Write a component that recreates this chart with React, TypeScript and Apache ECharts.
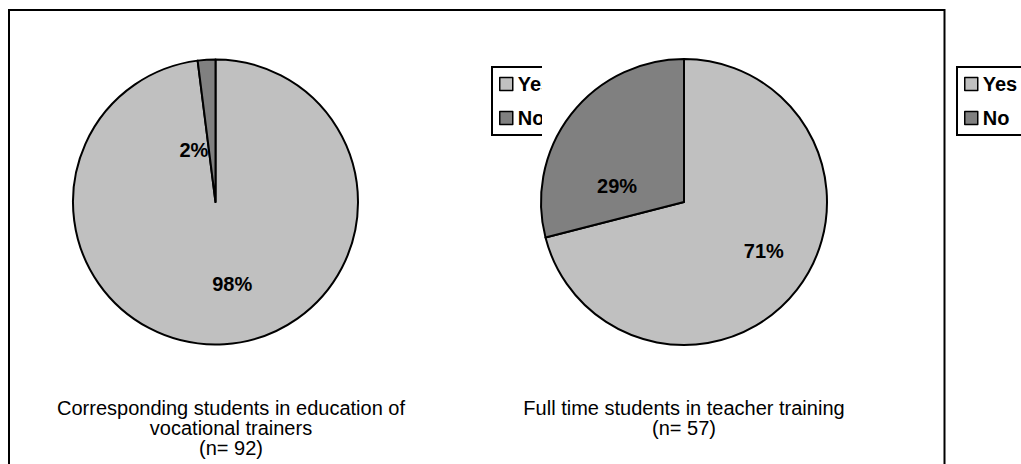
import React, { useEffect, useRef } from "react";
import * as echarts from "echarts";

const categories = ["Yes", "No"];
const pie1Values = [98, 2];
const pie2Values = [71, 29];
const sliceColors = ["#C0C0C0", "#808080"];
const pie1Title = "Corresponding students in education of\nvocational trainers\n(n= 92)";
const pie2Title = "Full time students in teacher training\n(n= 57)";

const FONT = "'Liberation Sans', Arial, sans-serif";

export default function App() {
  const ref = useRef<HTMLDivElement>(null);
  useEffect(() => {
    if (!ref.current) return;
    const chart = echarts.init(ref.current, undefined, { renderer: "svg" });
    const mk = (vals: number[]) =>
      categories.map((name, i) => ({
        name,
        value: vals[i],
        itemStyle: { color: sliceColors[i] },
      }));
    const labelShift1 = [
      [12, 8],
      [-17, 22],
    ];
    const labelShift2 = [
      [21, 3],
      [-8, 30],
    ];
    const pieBase = {
      type: "pie",
      startAngle: 90,
      clockwise: true,
      z: 10,
      itemStyle: { borderColor: "#000", borderWidth: 2 },
      label: {
        show: true,
        position: "inside",
        formatter: "{c}%",
        fontSize: 20,
        fontWeight: "bold",
        color: "#000",
        fontFamily: FONT,
      },
      labelLine: { show: false },
      emphasis: { disabled: true },
    };
    const legendBase = {
      orient: "vertical",
      data: categories,
      icon: "rect",
      itemWidth: 13,
      itemHeight: 13,
      itemGap: 14,
      padding: [7, 14, 7, 7],
      borderColor: "#000",
      borderWidth: 2,
      backgroundColor: "#fff",
      selectedMode: false,
      textStyle: {
        fontSize: 20,
        fontWeight: "bold",
        color: "#000",
        lineHeight: 20,
        fontFamily: FONT,
      },
      itemStyle: { borderColor: "#000", borderWidth: 1.5 },
      z: 4,
    };
    const titleStyle = {
      fontSize: 20,
      fontWeight: "normal",
      lineHeight: 20,
      color: "#000",
      fontFamily: FONT,
    };
    chart.setOption({
      animation: false,
      backgroundColor: "#fff",
      title: [
        {
          text: pie1Title,
          left: 231,
          top: 398,
          textAlign: "center",
          padding: 0,
          textStyle: titleStyle,
        },
        {
          text: pie2Title,
          left: 684,
          top: 398,
          textAlign: "center",
          padding: 0,
          textStyle: titleStyle,
        },
      ],
      legend: [
        { ...legendBase, left: 492, top: 67 },
        { ...legendBase, left: 957, top: 67 },
      ],
      graphic: [
        {
          type: "rect",
          shape: { x: 9, y: 10, width: 935.5, height: 480 },
          style: { fill: "none", stroke: "#000", lineWidth: 2 },
          z: 1,
          silent: true,
        },
        {
          type: "rect",
          shape: { x: 542, y: 60, width: 60, height: 80 },
          style: { fill: "#fff" },
          z: 6,
          silent: true,
        },
      ],
      series: [
        {
          ...pieBase,
          center: [215.5, 202],
          radius: [0, 142.5],
          data: mk(pie1Values),
          labelLayout: (p: any) => ({
            dx: labelShift1[p.dataIndex][0],
            dy: labelShift1[p.dataIndex][1],
          }),
        },
        {
          ...pieBase,
          center: [684, 202],
          radius: [0, 143],
          data: mk(pie2Values),
          labelLayout: (p: any) => ({
            dx: labelShift2[p.dataIndex][0],
            dy: labelShift2[p.dataIndex][1],
          }),
        },
      ],
    });
    return () => chart.dispose();
  }, []);
  return (
    <div
      ref={ref}
      style={{ position: "fixed", left: 0, top: 0, width: 1021, height: 464 }}
    />
  );
}
